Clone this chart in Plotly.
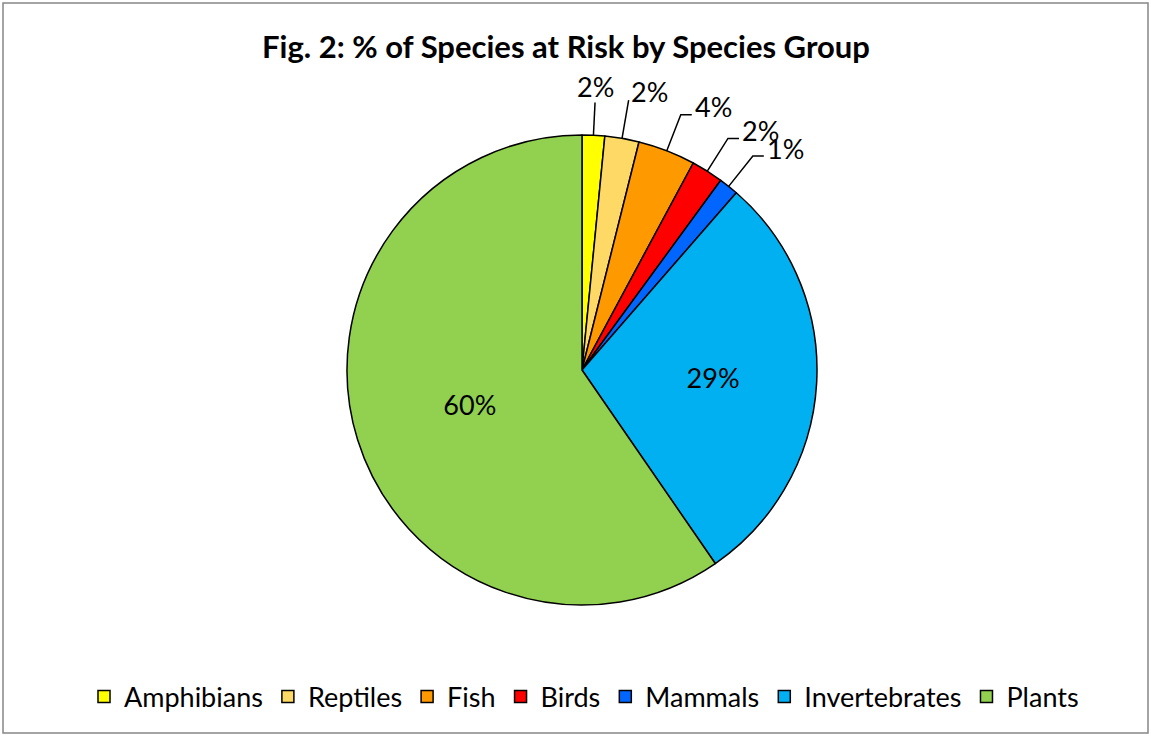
import math
import plotly.graph_objects as go

groups = ["Amphibians", "Reptiles", "Fish", "Birds", "Mammals", "Invertebrates", "Plants"]
shares = [1.55, 2.35, 3.95, 2.2, 1.35, 29.0, 59.6]
colors = ["#FFFF00", "#FFD966", "#FF9900", "#FF0000", "#0066FF", "#00B0F0", "#92D050"]
outside_label = [True, True, True, True, True, False, False]

W, H = 1151, 736
cx, cy, r = 582, 370, 235
FONT = "Lato"


def to_paper(px, py):
    return px / W, 1 - py / H


total = sum(shares)
pct_text = [f"{round(100 * v / total):d}%" for v in shares]

fig = go.Figure(go.Pie(
    labels=groups,
    values=shares,
    sort=False,
    direction="clockwise",
    rotation=0,
    marker=dict(colors=colors, line=dict(color="black", width=1.5)),
    text=[("" if o else t) for o, t in zip(outside_label, pct_text)],
    texttemplate="%{text}",
    textposition="inside",
    insidetextorientation="horizontal",
    textfont=dict(family=FONT, size=27, color="black"),
    domain=dict(x=[(cx - r) / W, (cx + r) / W], y=[(H - cy - r) / H, (H - cy + r) / H]),
    automargin=False,
    hoverinfo="label+percent",
))

# Leader-line labels for the thin slices, placed from each slice's mid angle
shapes = []
annotations = []
cum = 0.0
for v, o, t in zip(shares, outside_label, pct_text):
    mid = (cum + v / 2) / total * 2 * math.pi
    cum += v
    if not o:
        continue
    deg = math.degrees(mid)
    reach = 1.14 if deg < 5 else 1.165
    sx, sy = cx + r * math.sin(mid), cy - r * math.cos(mid)
    ex, ey = cx + reach * r * math.sin(mid), cy - reach * r * math.cos(mid)
    pts = [(sx, sy), (ex, ey)]
    if deg < 5:
        ax, ay, xa = ex, ey - 16, "center"
    elif deg < 12:
        ax, ay, xa = ex + 1, ey - 9, "left"
    else:
        pts.append((ex + 11, ey))
        ax, ay, xa = ex + 13, ey - 8, "left"
    path = "M " + " L ".join(f"{to_paper(px, py)[0]},{to_paper(px, py)[1]}" for px, py in pts)
    shapes.append(dict(type="path", xref="paper", yref="paper", path=path,
                       line=dict(color="black", width=1.5)))
    x_p, y_p = to_paper(ax, ay)
    annotations.append(dict(text=t, x=x_p, y=y_p, xref="paper", yref="paper",
                            xanchor=xa, yanchor="middle", showarrow=False, borderpad=0,
                            font=dict(family=FONT, size=27, color="black")))

shapes.append(dict(type="rect", xref="paper", yref="paper", x0=3 / W, x1=1 - 3 / W, y0=3 / H, y1=1 - 3 / H,
                   line=dict(color="#868686", width=1.5), fillcolor="rgba(0,0,0,0)"))

fig.update_layout(
    width=W, height=H,
    margin=dict(l=0, r=0, t=0, b=0),
    paper_bgcolor="white",
    font=dict(family=FONT, color="black"),
    title=dict(text="<b>Fig. 2: % of Species at Risk by Species Group</b>",
               x=566 / W, xanchor="center", y=1 - 47 / H, yanchor="middle",
               font=dict(family=FONT, size=31, color="black")),
    legend=dict(orientation="h", x=584 / W, xanchor="center", y=1 - 697 / H, yanchor="middle",
                font=dict(family=FONT, size=27, color="black"), itemclick=False),
    shapes=shapes,
    annotations=annotations,
)

fig.write_html("out.html")
